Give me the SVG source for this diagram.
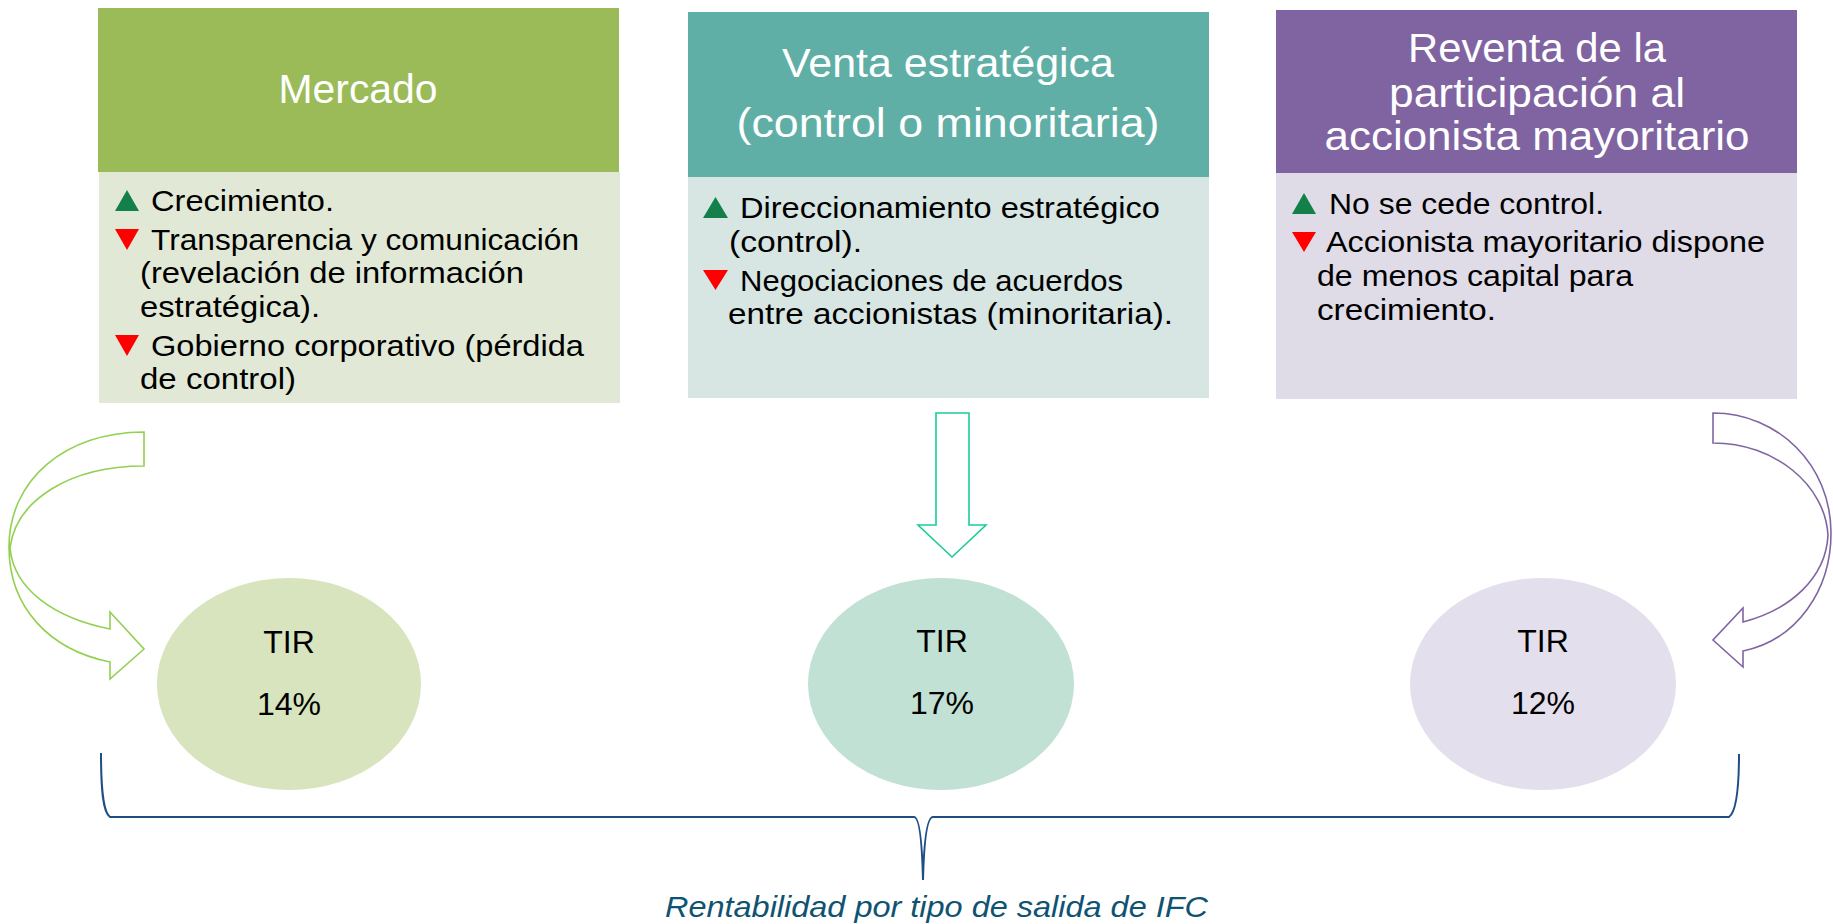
<svg xmlns="http://www.w3.org/2000/svg" width="1833" height="924" viewBox="0 0 1833 924">
<defs>
<style>
.title{font-family:"Liberation Sans",Arial,sans-serif;font-size:41px;fill:#ffffff;text-anchor:middle}
.body{font-family:"Liberation Sans",Arial,sans-serif;font-size:29px;fill:#000000}
.tir{font-family:"Liberation Sans",Arial,sans-serif;font-size:32px;fill:#000000;text-anchor:middle}
.cap{font-family:"Liberation Sans",Arial,sans-serif;font-size:30px;font-style:italic;fill:#0F5372}
.up{fill:#13804A}
.down{fill:#FF0000}
.arrow{fill:none;stroke-width:1.6;stroke-linejoin:miter}
</style>
</defs>
<rect width="1833" height="924" fill="#ffffff"/>

<g id="node-mercado">
<rect x="99" y="172" width="521" height="231" fill="#E1E9D6"/>
<rect x="98" y="8" width="521" height="164" fill="#9BBB59"/>
<text class="title" x="358" y="103" textLength="159" lengthAdjust="spacingAndGlyphs">Mercado</text>
<polygon class="up" points="115,211 139,211 127,190"/>
<text class="body" x="151" y="211" textLength="183" lengthAdjust="spacingAndGlyphs">Crecimiento.</text>
<polygon class="down" points="115,229 139,229 127,250"/>
<text class="body" x="151" y="250" textLength="428" lengthAdjust="spacingAndGlyphs">Transparencia y comunicación</text>
<text class="body" x="140" y="283" textLength="384" lengthAdjust="spacingAndGlyphs">(revelación de información</text>
<text class="body" x="140" y="317" textLength="180" lengthAdjust="spacingAndGlyphs">estratégica).</text>
<polygon class="down" points="115,335 139,335 127,356"/>
<text class="body" x="151" y="356" textLength="433" lengthAdjust="spacingAndGlyphs">Gobierno corporativo (pérdida</text>
<text class="body" x="140" y="389" textLength="156" lengthAdjust="spacingAndGlyphs">de control)</text>
</g>

<g id="node-venta">
<rect x="688" y="177" width="521" height="221" fill="#D7E6E3"/>
<rect x="688" y="12" width="521" height="165" fill="#5FAFA6"/>
<text class="title" x="948" y="77" textLength="332" lengthAdjust="spacingAndGlyphs">Venta estratégica</text>
<text class="title" x="948" y="137" textLength="423" lengthAdjust="spacingAndGlyphs">(control o minoritaria)</text>
<polygon class="up" points="703,218 728,218 715.5,197"/>
<text class="body" x="740" y="218" textLength="420" lengthAdjust="spacingAndGlyphs">Direccionamiento estratégico</text>
<text class="body" x="729" y="252" textLength="133" lengthAdjust="spacingAndGlyphs">(control).</text>
<polygon class="down" points="703,270 728,270 715.5,290"/>
<text class="body" x="740" y="291" textLength="383" lengthAdjust="spacingAndGlyphs">Negociaciones de acuerdos</text>
<text class="body" x="728" y="324" textLength="445" lengthAdjust="spacingAndGlyphs">entre accionistas (minoritaria).</text>
</g>

<g id="node-reventa">
<rect x="1276" y="173" width="521" height="226" fill="#DFDBE7"/>
<rect x="1276" y="10" width="521" height="163" fill="#8064A2"/>
<text class="title" x="1537" y="62" textLength="258" lengthAdjust="spacingAndGlyphs">Reventa de la</text>
<text class="title" x="1537" y="107" textLength="296" lengthAdjust="spacingAndGlyphs">participación al</text>
<text class="title" x="1537" y="150" textLength="425" lengthAdjust="spacingAndGlyphs">accionista mayoritario</text>
<polygon class="up" points="1292,214 1316,214 1304,193"/>
<text class="body" x="1329" y="214" textLength="275" lengthAdjust="spacingAndGlyphs">No se cede control.</text>
<polygon class="down" points="1292,232 1316,232 1304,252"/>
<text class="body" x="1326" y="252" textLength="439" lengthAdjust="spacingAndGlyphs">Accionista mayoritario dispone</text>
<text class="body" x="1317" y="286" textLength="316" lengthAdjust="spacingAndGlyphs">de menos capital para</text>
<text class="body" x="1317" y="320" textLength="179" lengthAdjust="spacingAndGlyphs">crecimiento.</text>
</g>

<g id="node-tir14">
<ellipse cx="289" cy="684" rx="132" ry="106" fill="#D7E4BD"/>
<text class="tir" x="289" y="653">TIR</text>
<text class="tir" x="289" y="715">14%</text>
</g>

<g id="node-tir17">
<ellipse cx="941" cy="684" rx="133" ry="106" fill="#C0E1D4"/>
<text class="tir" x="942" y="652">TIR</text>
<text class="tir" x="942" y="714">17%</text>
</g>

<g id="node-tir12">
<ellipse cx="1543" cy="684" rx="133" ry="106" fill="#E4DFEC"/>
<text class="tir" x="1543" y="652">TIR</text>
<text class="tir" x="1543" y="714">12%</text>
</g>

<g id="connectors">
<path class="arrow" stroke="#92D050" d="M144,432 L144,466 C70,466 16,500 10,548 C14,590 55,618 110,629 L110,612 L144,649 L110,679 L110,662 C50,650 9,608 9,547 C9,480 65,432 144,432 Z"/>
<path class="arrow" stroke="#1ACC99" d="M936,413 L969,413 L969,525 L986,525 L952,557 L918,525 L936,525 Z"/>
<path class="arrow" stroke="#8064A2" d="M1713,413 L1713,443 C1775,443 1825,485 1828,535 C1826,578 1790,610 1743,622 L1743,608 L1713,640 L1743,667 L1743,651 C1797,640 1831,590 1831,533 C1831,465 1778,413 1713,413 Z"/>
<path fill="none" stroke="#1F4E85" stroke-width="2" d="M101,753 C101,790 103,812 110,817 L914,817 C919,817 922,840 923,880 C924,840 927,817 933,817 L1729,817 C1736,812 1739,790 1739,754"/>
</g>

<text class="cap" x="665" y="917" textLength="543" lengthAdjust="spacingAndGlyphs">Rentabilidad por tipo de salida de IFC</text>
</svg>
